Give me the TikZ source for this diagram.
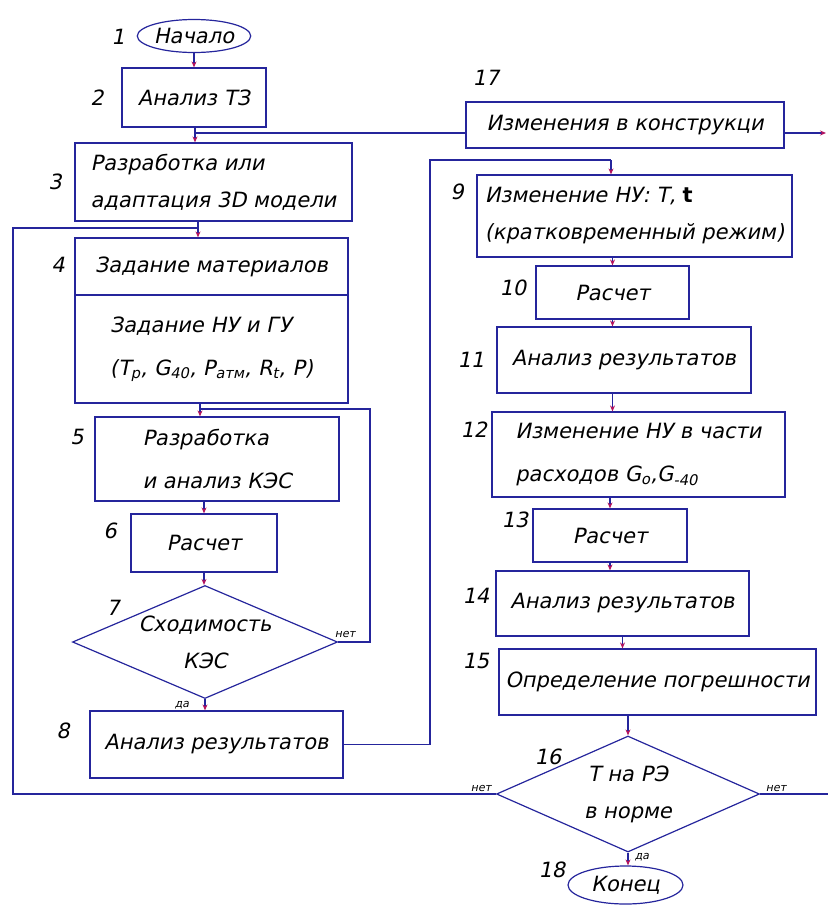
\documentclass[tikz,border=0pt]{standalone}
\usepackage{fontspec}
\usepackage{tikz}
\usetikzlibrary{shapes.geometric}
\usetikzlibrary{arrows.meta}
\newfontfamily\gost{DejaVu Sans}[FakeSlant=0.2]
\newfontfamily\pryam{DejaVu Sans}
\definecolor{liniya}{HTML}{25259C}
\definecolor{kras}{HTML}{B3125E}
\tikzset{
  blok/.style = {draw = liniya, line width = 1.2pt, rectangle, inner sep = 2pt, align = left},
  romb/.style = {draw = liniya, line width = 1.2pt, diamond, inner sep = 0pt},
  oval/.style = {draw = liniya, line width = 1.2pt, ellipse, inner sep = 0pt},
  nomer/.style = {inner sep = 0pt},
  otvet/.style = {inner sep = 0pt, font = \gost\fontsize{11}{12}\selectfont},
  liniya/.style = {draw = liniya, line width = 1.2pt},
  strelka/.style = {liniya, -{Stealth[length = 6pt, width = 5pt, color = kras]}},
}

\begin{document}
\begin{tikzpicture}[x = 1pt, y = -1pt, font = \gost\fontsize{21}{37}\selectfont]
  \useasboundingbox (0, 0) rectangle (828, 906);

  % left column
  \node[oval, minimum width = 113, minimum height = 33] (e1) at (194, 36) {Начало};
  \node[blok, minimum width = 144, minimum height = 59] (b2) at (194, 97.5) {Анализ ТЗ};
  \node[blok, minimum width = 277, minimum height = 78] (b3) at (213.5, 182) {Разработка или\\адаптация 3D модели};
  \node[blok, minimum width = 273, minimum height = 57] (b4a) at (211.5, 266.5) {Задание материалов};
  \node[blok, minimum width = 273, minimum height = 108] (b4b) at (211.5, 349)
    {Задание НУ и ГУ\\[6pt](T\textsubscript{р}, G\textsubscript{40}, P\textsubscript{атм}, R\textsubscript{t}, P)};
  \node[blok, minimum width = 244, minimum height = 84] (b5) at (217, 459) {Разработка\\[6pt]и анализ КЭС};
  \node[blok, minimum width = 146, minimum height = 58] (b6) at (204, 543) {Расчет};
  \node[romb, minimum width = 265, minimum height = 113] (d7) at (205, 642) {};
  \node[align = center] (t7) at (d7) {Сходимость\\КЭС};
  \node[blok, minimum width = 253, minimum height = 67] (b8) at (216.5, 744.5) {Анализ результатов};

  % right column
  \node[blok, minimum width = 318, minimum height = 46] (b17) at (625, 125) {Изменения в конструкци};
  \node[blok, minimum width = 315, minimum height = 82] (b9) at (634.5, 216)
    {Изменение НУ: Т, {\pryam\bfseries t}\\(кратковременный режим)};
  \node[blok, minimum width = 153, minimum height = 53] (b10) at (612.5, 292.5) {Расчет};
  \node[blok, minimum width = 254, minimum height = 66] (b11) at (624, 360) {Анализ результатов};
  \node[blok, minimum width = 293, minimum height = 85] (b12) at (638.5, 454.5)
    {Изменение НУ в части\\[6pt]расходов G\textsubscript{о},G\textsubscript{-40}};
  \node[blok, minimum width = 154, minimum height = 53] (b13) at (610, 535.5) {Расчет};
  \node[blok, minimum width = 253, minimum height = 65] (b14) at (622.5, 603.5) {Анализ результатов};
  \node[blok, minimum width = 317, minimum height = 66] (b15) at (657.5, 682) {Определение погрешности};
  \node[romb, minimum width = 263, minimum height = 116] (d16) at (628, 794) {};
  \node[align = center] (t16) at (d16) {Т на РЭ\\в норме};
  \node[oval, minimum width = 115, minimum height = 38] (e18) at (625.5, 885) {Конец};

  % numbers
  \node[nomer] (n1) at (118, 37) {1};
  \node[nomer] (n2) at (97, 98) {2};
  \node[nomer] (n3) at (55, 182) {3};
  \node[nomer] (n4) at (58, 265) {4};
  \node[nomer] (n5) at (77, 437) {5};
  \node[nomer] (n6) at (110, 531) {6};
  \node[nomer] (n7) at (113, 608) {7};
  \node[nomer] (n8) at (63, 731) {8};
  \node[nomer] (n9) at (457, 192) {9};
  \node[nomer] (n10) at (513, 288) {10};
  \node[nomer] (n11) at (471, 360) {11};
  \node[nomer] (n12) at (474, 430) {12};
  \node[nomer] (n13) at (515, 520) {13};
  \node[nomer] (n14) at (476, 596) {14};
  \node[nomer] (n15) at (476, 661) {15};
  \node[nomer] (n16) at (548, 757) {16};
  \node[nomer] (n17) at (486, 78) {17};
  \node[nomer] (n18) at (552, 870) {18};

  % answers
  \node[otvet] (o7n) at (345, 634) {нет};
  \node[otvet] (o7d) at (182, 705) {да};
  \node[otvet] (o16l) at (481, 788) {нет};
  \node[otvet] (o16r) at (776, 788) {нет};
  \node[otvet] (o16d) at (642, 857) {да};

  % free corners
  \coordinate (v3) at (195, 133);
  \coordinate (v4) at (198, 228);
  \coordinate (v5) at (200, 409);
  \coordinate (k5) at (370, 409);
  \coordinate (k8) at (430, 160);
  \coordinate (v9) at (611, 160);
  \coordinate (k16) at (13, 0);
  \coordinate (k17) at (826, 133);
  \coordinate (kr) at (828, 0);

  % connectors
  \draw[strelka] (e1) -- (b2);
  \draw[liniya] (b2.south -| v3) -- (v3);
  \draw[strelka] (v3) -- (v3 |- b3.north);
  \draw[liniya] (b17.west |- v3) -- (v3);
  \draw[strelka] (b17.east |- k17) -- (k17);
  \draw[liniya] (b3.south -| v4) -- (v4);
  \draw[strelka] (v4) -- (v4 |- b4a.north);
  \draw[liniya] (b4b.south -| v5) -- (v5);
  \draw[strelka] (v5) -- (v5 |- b5.north);
  \draw[liniya] (d7.east) -| (k5) -- (v5);
  \draw[strelka] (b6.north |- b5.south) -- (b6.north);
  \draw[strelka] (b6.south) -- (b6.south |- d7.north);
  \draw[strelka] (d7.south) -- (d7.south |- b8.north);
  \draw[liniya] (b8.east) -| (k8) -- (v9);
  \draw[strelka] (v9) -- (v9 |- b9.north);
  \draw[strelka] (b10.north |- b9.south) -- (b10.north);
  \draw[strelka] (b10.south) -- (b10.south |- b11.north);
  \draw[strelka] (b11.south -| b10.south) -- (b12.north -| b10.south);
  \draw[strelka] (b13.north |- b12.south) -- (b13.north);
  \draw[strelka] (b13.south) -- (b13.south |- b14.north);
  \draw[strelka] (b14.south) -- (b14.south |- b15.north);
  \draw[strelka] (d16.north |- b15.south) -- (d16.north);
  \draw[strelka] (d16.south) -- (d16.south |- e18.north);
  \draw[liniya] (d16.west) -- (d16.west -| k16) |- (v4);
  \draw[liniya] (d16.east) -- (d16.east -| kr);
\end{tikzpicture}
\end{document}
